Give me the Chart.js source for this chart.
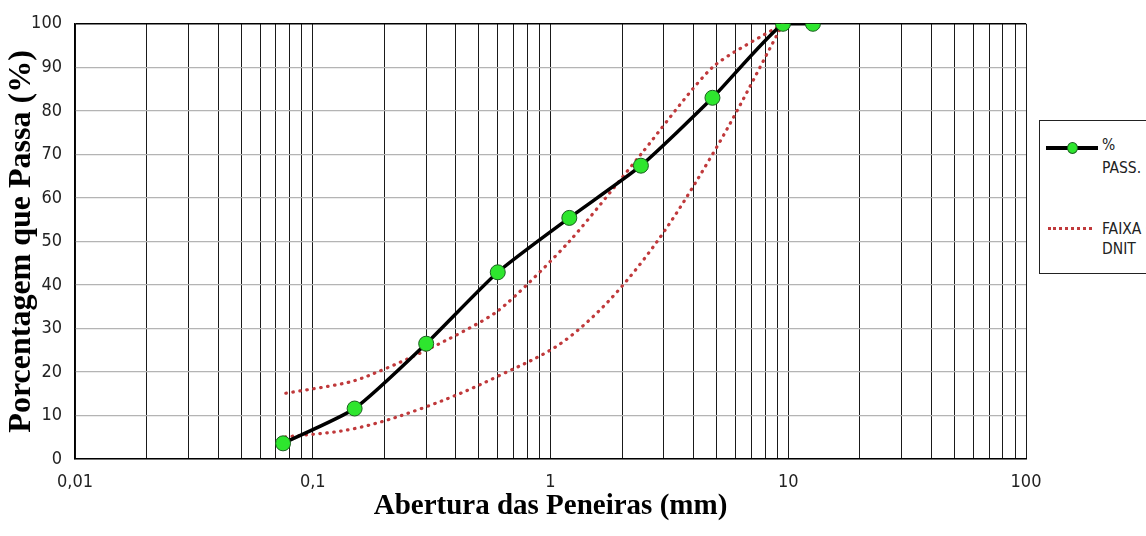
<!DOCTYPE html>
<html lang="pt-BR">
<head>
<meta charset="utf-8">
<title>Curva granulométrica</title>
<script src="https://cdn.jsdelivr.net/npm/chart.js@4.4.1/dist/chart.umd.min.js"></script>
<style>
  html, body { margin: 0; padding: 0; background: #fff; }
  #wrap { position: relative; width: 1146px; height: 536px; overflow: hidden; }
  #grafico { position: absolute; left: 0; top: 0; }
  #legend {
    position: absolute; left: 1039px; top: 120px; width: 150px; height: 154px;
    box-sizing: border-box; border: 1px solid #222; background: #fff;
    font-family: "Liberation Sans Narrow", "Arial Narrow", "DejaVu Sans Condensed", sans-serif;
    font-size: 15.5px; color: #222;
  }
  #legend .txt { position: absolute; left: 62px; white-space: nowrap; }
  #legend .solid { position: absolute; left: 6px; top: 25px; width: 52px; height: 4px; background: #000; }
  #legend .dot { position: absolute; left: 27px; top: 21px; width: 9px; height: 10px; border-radius: 50%;
    background: #2ee62e; border: 1px solid #1b5e20; }
  #legend .dotted { position: absolute; left: 8px; top: 106px; width: 44px; border-top: 3px dotted #c0393b; }
</style>
</head>
<body>
<div id="wrap">
  <canvas id="grafico" width="1146" height="536"></canvas>
  <div id="legend">
    <div class="solid"></div><div class="dot"></div>
    <div class="txt" style="top:13px; line-height:23px">%<br>PASS.</div>
    <div class="dotted"></div>
    <div class="txt" style="top:98px; line-height:20px">FAIXA C<br>DNIT</div>
  </div>
</div>
<script>
// peneiras (mm) e % passante
const peneiras = [12.7, 9.5, 4.8, 2.4, 1.2, 0.6, 0.3, 0.15, 0.075];
const passante = [100, 100, 83, 67.4, 55.4, 42.9, 26.5, 11.6, 3.6];

// faixa DNIT (limites)
const faixaPeneiras = [9.5, 4.8, 2.4, 1.2, 0.6, 0.3, 0.15, 0.075];
const faixaSuperior = [100, 90, 70, 50, 34, 25, 18, 15];
const faixaInferior = [100, 70, 45, 28, 19, 12, 7, 5];

const decadas = [0.01, 0.1, 1, 10, 100];
const yTicks = [0, 10, 20, 30, 40, 50, 60, 70, 80, 90, 100];

// linhas verticais: 1..9 x cada decada
const xGrade = [];
decadas.slice(0, -1).forEach(d => {
  for (let m = 1; m <= 9; m++) xGrade.push(+(m * d).toPrecision(6));
});
xGrade.push(decadas[decadas.length - 1]);

const pontos = (xs, ys) => xs.map((x, i) => ({ x: x, y: ys[i] }));
const fmt = v => String(v).replace('.', ',');
const fonteNum = { family: '"Liberation Sans Narrow", "Arial Narrow", "DejaVu Sans Condensed", sans-serif', size: 18 };
const serif = '"Liberation Serif", "Times New Roman", serif';

const vermelho = '#c0393b';

new Chart(document.getElementById('grafico'), {
  type: 'line',
  data: {
    datasets: [
      {
        label: '% PASS.',
        data: pontos(peneiras, passante),
        borderColor: '#000',
        borderWidth: 3.5,
        tension: 0.2,
        pointRadius: 7.5,
        pointBackgroundColor: '#2ee62e',
        pointBorderColor: '#1b5e20',
        pointBorderWidth: 1
      },
      {
        label: 'FAIXA C DNIT',
        data: pontos(faixaPeneiras, faixaSuperior),
        borderColor: vermelho,
        borderWidth: 3.2,
        borderDash: [0.5, 6.5],
        borderCapStyle: 'round',
        tension: 0.22,
        pointRadius: 0
      },
      {
        label: 'FAIXA C DNIT',
        data: pontos(faixaPeneiras, faixaInferior),
        borderColor: vermelho,
        borderWidth: 3.2,
        borderDash: [0.5, 6.5],
        borderCapStyle: 'round',
        tension: 0.35,
        pointRadius: 0
      }
    ]
  },
  options: {
    responsive: false,
    animation: false,
    events: [],
    layout: { autoPadding: false, padding: { left: 0, top: 22, right: 120, bottom: 0 } },
    plugins: { legend: { display: false }, tooltip: { enabled: false } },
    scales: {
      x: {
        type: 'logarithmic',
        min: decadas[0],
        max: decadas[decadas.length - 1],
        afterBuildTicks: s => { s.ticks = xGrade.map(v => ({ value: v })); },
        afterFit: s => { s.height = 77; },
        ticks: {
          autoSkip: false,
          maxRotation: 0,
          padding: 13,
          color: '#222',
          font: fonteNum,
          callback: v => decadas.includes(v) ? fmt(v) : ''
        },
        grid: { color: '#1a1a1a', lineWidth: 1, drawTicks: false },
        border: { color: '#000', width: 1.5 },
        title: {
          display: true,
          text: 'Abertura das Peneiras (mm)',
          color: '#000',
          font: { family: serif, size: 29, weight: 'bold' },
          padding: { top: 0, bottom: 12 }
        }
      },
      y: {
        min: 0,
        max: 100,
        afterBuildTicks: s => { s.ticks = yTicks.map(v => ({ value: v })); },
        afterFit: s => { s.width = 75; },
        ticks: { padding: 13, color: '#222', font: fonteNum },
        grid: {
          color: c => c.tick && c.tick.value === 100 ? '#000' : '#b4b4b4',
          lineWidth: c => c.tick && c.tick.value === 100 ? 1.5 : 1.2,
          drawTicks: false
        },
        border: { color: '#000', width: 1.5 },
        title: {
          display: true,
          text: 'Porcentagem que Passa (%)',
          color: '#000',
          font: { family: serif, size: 32, weight: 'bold' },
          padding: { top: 3, bottom: 0 }
        }
      }
    }
  }
});
</script>
</body>
</html>
